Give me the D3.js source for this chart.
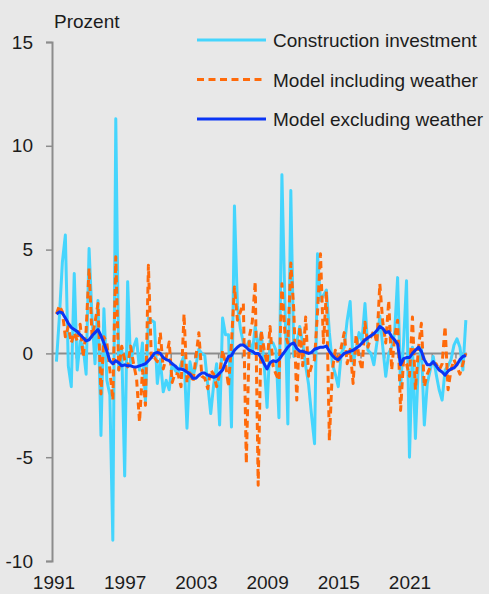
<!DOCTYPE html>
<html>
<head>
<meta charset="utf-8">
<script src="https://cdn.jsdelivr.net/npm/d3@7"></script>
<style>
  body { margin: 0; background: #e8e8e8; }
  svg { display: block; font-family: "Liberation Sans", Arial, sans-serif; }
</style>
</head>
<body>
<div id="chart"></div>
<script>
// quarterly growth rates, 1991Q2 onwards
const firstQuarter = 1991.375;

const construction = [
  -0.4, 1.8, 4.4, 5.7, -0.6, -1.6, 3.85, -0.8, 0.6, 0.3,
  -1.0, 5.05, 1.7, -0.5, 2.55, -3.95, 2.15, -1.3, -2.0, -9.0,
  11.3, -0.8, 0.3, -5.9, 3.45, -0.5, 0.3, 0.7, -0.8, 0.5,
  -2.3, 1.7, 1.6, 1.5, -1.45, -0.3, -1.85, -1.3, -1.75, -0.5,
  -0.8, -1.0, -0.5, -0.1, -3.6, -0.4, -1.1, -0.6, 0.2, 0.0,
  -0.1, -1.5, -2.9, -1.5, -0.5, -3.45, 1.7, 0.9, 0.9, -3.55,
  7.1, 2.3, 1.2, 0.5, 0.3, 0.6, 0.0, 1.3, 0.2, 1.0,
  -0.5, -2.6, 0.6, 0.5, 0.15, -3.1, 8.6, 2.5, -3.4, 7.85,
  -0.15, 0.5, 1.3, 0.5, -0.6, -1.5, -3.0, -4.35, 4.8, 2.55,
  2.8, 3.05, 1.0, -0.5, -1.0, -1.6, 0.0, 0.3, 1.6, 2.5,
  -0.5, 0.2, 1.0, 0.6, 2.4, 0.15, 0.0, -0.55, 0.5, 1.8,
  0.3, -1.1, 0.0, 0.3, 1.0, 3.65, -1.6, 0.5, 3.5, -5.0,
  0.3, -4.1, -0.5, 0.3, -3.45, -1.45, -0.8, -0.15, -1.0, -1.75,
  -2.25, -0.8, -0.6, -0.3, 0.4, 0.7, 0.3, -0.8, 1.6
];

const withWeather = [
  1.9, 2.3, 2.0, 0.8, 1.3, 0.5, 1.0, 0.6, 1.4, -0.15,
  1.1, 4.1, 0.8, 1.5, 2.4, -1.95, 0.8, 0.5, -0.8, -2.25,
  4.65, -0.8, 0.35, -0.3, -0.65, 0.35, -0.5, -1.2, -3.3, -0.8,
  -2.5, 4.25, -0.3, -0.2, -0.4, 1.0, -0.75, -0.2, 0.55, -1.4,
  -0.95, -1.0, -1.6, 1.9, -1.4, -0.8, -1.4, -0.2, 1.0, -1.1,
  -1.2, -1.7, -0.8, -1.0, -1.6, -1.0, 0.15, -0.5, -1.6, 0.5,
  3.2, 1.6, 2.0, 2.4, -5.3, 0.8, 1.5, 3.45, -6.35, 1.1,
  0.2, -0.5, 1.3, -0.6, -1.0, -1.3, 3.35, 1.0, 0.5, 4.35,
  2.1, -2.25, 1.3, -0.6, 1.75, -1.1, -0.6, -0.3, 2.0, 4.8,
  0.5, 3.0, -4.2, -0.8, 0.15, -0.5, 0.3, 1.0, -0.5, 0.2,
  -1.45, 0.9, -0.2, -0.8, 1.5, 0.3, 0.8, 1.1, 0.5, 3.35,
  1.5, 0.5, 2.55, -0.8, 0.8, 1.6, -2.75, -0.3, -0.5, -1.1,
  1.75, -1.75, 0.2, 1.45, -1.6, -1.0, -0.65, -0.5, -0.5, -0.8,
  -0.5, 1.3, -1.75, -0.8, -0.3, -0.65, -1.0, -0.5, 0.0
];

const withoutWeather = [
  1.9, 2.0, 1.95, 1.7, 1.45, 1.25, 1.15, 1.05, 0.9, 0.75,
  0.6, 0.65, 0.85, 1.0, 1.15, 0.85, 0.5, 0.1, -0.35, -0.5,
  -0.35, -0.45, -0.6, -0.55, -0.6, -0.6, -0.65, -0.65, -0.6, -0.55,
  -0.5, -0.35, -0.2, 0.0, 0.05, 0.0, -0.2, -0.3, -0.35, -0.5,
  -0.6, -0.75, -0.75, -0.8, -0.9, -1.0, -1.2, -1.2, -1.05, -0.95,
  -0.95, -1.05, -1.1, -1.15, -1.1, -0.95, -0.8, -0.45, -0.15, -0.1,
  0.15, 0.3, 0.4, 0.4, 0.3, 0.15, 0.1, 0.0, 0.0, -0.2,
  -0.5, -0.75, -0.45, -0.35, -0.4, -0.3, -0.1, 0.1, 0.3, 0.45,
  0.5, 0.25, 0.1, 0.1, 0.05, 0.0, 0.05, 0.2, 0.25, 0.3,
  0.3, 0.35, 0.1, -0.1, -0.25, -0.3, -0.15, 0.0, 0.05, 0.1,
  0.15, 0.25, 0.35, 0.5, 0.65, 0.75, 0.85, 0.95, 1.1, 1.3,
  1.2, 1.0, 1.05, 0.8, 0.65, 0.45, -0.55, -0.25, -0.2, -0.2,
  0.0, 0.15, 0.3, 0.1, -0.3, -0.55, -0.55, -0.4, -0.6, -0.8,
  -0.9, -1.05, -0.85, -0.75, -0.7, -0.55, -0.3, -0.15, -0.1
];

const yTicks = [-10, -5, 0, 5, 10, 15];
const yearLabels = [1991, 1997, 2003, 2009, 2015, 2021];
const minorYears = d3.range(1993, 2026, 2);

const seriesList = [
  {name: "Construction investment", values: construction, color: "#45d5fd", dash: null},
  {name: "Model including weather", values: withWeather, color: "#ff6a0a", dash: "7,4.5"},
  {name: "Model excluding weather", values: withoutWeather, color: "#0a35f5", dash: null}
];

const W = 489, H = 594;
const svg = d3.select("#chart").append("svg")
  .attr("width", W).attr("height", H);

svg.append("rect").attr("width", W).attr("height", H).attr("fill", "#e8e8e8");

const x = d3.scaleLinear().domain([1991, 2021]).range([52, 408]);
const y = d3.scaleLinear().domain([-10, 15]).range([561, 42]);

const axisColor = "#8c8c8c";
const textColor = "#1c1c1c";

// y axis
const yAxis = svg.append("g")
  .attr("transform", `translate(${x(1991)},0)`)
  .call(d3.axisLeft(y).tickValues(yTicks).tickSize(6).tickPadding(13));
yAxis.select(".domain").attr("stroke", axisColor).attr("stroke-width", 2);
yAxis.selectAll(".tick line").attr("stroke", axisColor).attr("stroke-width", 1.5);
yAxis.selectAll(".tick text")
  .attr("fill", textColor)
  .style("font-size", "19px")
  .text(d => d < 0 ? "-" + Math.abs(d) : d);

// zero line with small year ticks
const xAxis = svg.append("g")
  .attr("transform", `translate(0,${y(0)})`)
  .call(d3.axisBottom(x).tickValues(minorYears).tickSize(5).tickSizeOuter(0).tickFormat(""));
xAxis.select(".domain").attr("d", `M${x(1991)},0H${x(2025.95)}`)
  .attr("stroke", axisColor).attr("stroke-width", 2);
xAxis.selectAll(".tick line").attr("stroke", axisColor).attr("stroke-width", 1.5);

// year labels below the chart
svg.append("g").selectAll("text")
  .data(yearLabels)
  .enter()
  .append("text")
  .attr("x", d => x(d) + 2)
  .attr("y", 589)
  .attr("text-anchor", "middle")
  .attr("fill", textColor)
  .style("font-size", "19px")
  .text(d => d);

svg.append("text")
  .attr("x", 54).attr("y", 28)
  .attr("fill", textColor)
  .style("font-size", "19px")
  .text("Prozent");

const line = d3.line()
  .x((d, i) => x(firstQuarter + i / 4))
  .y(d => y(d));

svg.append("g").selectAll("path")
  .data(seriesList)
  .enter()
  .append("path")
  .attr("d", d => line(d.values))
  .attr("fill", "none")
  .attr("stroke", d => d.color)
  .attr("stroke-width", 3)
  .attr("stroke-dasharray", d => d.dash)
  .attr("stroke-linejoin", "round");

// legend
const rows = svg.append("g").selectAll("g")
  .data(seriesList)
  .enter()
  .append("g")
  .attr("transform", (d, i) => `translate(197,${40 + i * 39.5})`);
rows.append("line")
  .attr("x1", 0).attr("x2", 69)
  .attr("stroke", d => d.color)
  .attr("stroke-width", 3)
  .attr("stroke-dasharray", d => d.dash);
rows.append("text")
  .attr("x", 76).attr("y", 7)
  .attr("fill", textColor)
  .style("font-size", "19px")
  .text(d => d.name);
</script>
</body>
</html>
